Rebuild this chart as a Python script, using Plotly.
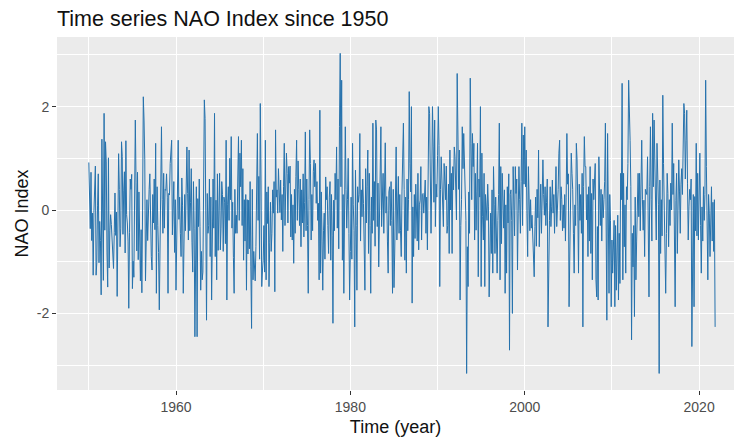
import plotly.graph_objects as go

# Monthly NAO index, Jan 1950 .. Nov 2021 (values read/estimated from the reference)
start_year = 1950
nao_index = [
    0.92, 0.40, -0.36, 0.73, -0.59, -0.06, -1.26, -0.05, 0.25, 0.85, -1.26, -1.02,   # 1950
    0.08, 0.70, -1.02, -0.22, -0.59, -1.64, 1.37, -0.22, -1.36, 1.87, -0.39, 1.32,   # 1951
    0.93, -0.83, -1.49, 1.01, -1.12, -0.40, -0.09, -0.28, -0.54, -0.73, -1.13, -0.43,  # 1952
    0.33, -0.49, -0.04, -1.67, -0.66, 1.09, 0.40, -0.71, -0.35, 1.32, 1.04, -0.47,   # 1953
    0.37, 0.74, -0.83, 1.34, -0.09, -0.25, -0.60, -1.90, -0.44, 0.60, 0.40, 0.69,    # 1954
    -1.52, -0.99, -1.30, 0.28, 1.74, 0.54, -0.79, 0.73, -0.96, 0.35, -0.35, -1.37,   # 1955
    -0.38, -1.60, 0.02, 2.19, 1.74, 0.97, -1.37, -0.83, 0.20, -0.59, 0.14, 0.40,     # 1956
    0.70, -0.70, -0.90, -1.16, 0.30, -0.25, 0.60, -0.38, 1.29, -1.61, 0.45, -0.30,   # 1957
    -0.82, -1.93, -0.60, 0.42, 1.61, 0.20, -0.45, 0.71, -0.35, 0.40, 0.38, 0.70,     # 1958
    0.25, -1.61, 0.32, 0.29, 0.90, 1.16, 1.35, -0.48, 0.10, 0.55, -0.82, 0.20,       # 1959
    -1.55, -0.42, 0.30, 1.35, -0.18, 0.25, -0.45, -0.90, 0.62, 0.08, -1.61, -0.70,   # 1960
    0.30, -0.40, 0.71, 1.22, 0.32, -0.58, 1.16, -0.40, 0.14, 0.80, -0.62, -1.20,     # 1961
    0.55, -0.35, -2.45, -0.60, 0.45, -2.45, 0.22, -0.32, 0.60, -0.32, -1.55, -0.80,  # 1962
    -1.35, -1.20, 0.40, 2.13, 1.77, -0.70, -2.13, 0.32, -0.45, -0.30, 0.60, -0.90,   # 1963
    0.25, -1.74, 0.10, 0.60, -0.35, 1.87, -0.90, 0.19, -1.35, 0.70, -0.78, 0.45,     # 1964
    0.71, -0.77, -0.35, 0.55, 0.30, -0.80, 0.25, 0.15, -0.65, 1.35, -1.74, 0.10,     # 1965
    0.45, -0.20, 1.00, 0.20, 1.42, -0.35, 0.15, -0.92, -1.61, 0.40, -0.45, -0.10,    # 1966
    -0.45, 0.60, 1.42, -0.20, 1.10, 0.45, 1.35, -0.30, 0.80, -0.97, 0.20, -0.60,     # 1967
    0.30, -1.55, 0.20, -0.85, 0.19, -0.75, 0.55, -1.10, -2.29, 0.40, -1.35, -0.80,   # 1968
    -1.30, -1.37, -0.70, 0.45, 1.48, -0.20, 0.65, -0.95, 2.06, 0.58, -1.48, -1.16,   # 1969
    -0.97, -0.30, -1.20, 1.35, -1.35, 0.35, -0.26, 0.45, -1.48, -0.62, 0.15, -0.80,  # 1970
    -0.45, 0.39, -0.06, 0.55, -1.58, 1.55, 0.25, 0.39, -0.06, 0.80, 0.42, -0.05,     # 1971
    0.58, -0.19, 0.30, -0.80, 0.45, 1.29, -0.30, 0.20, 1.10, 0.71, -0.25, 0.84,      # 1972
    0.52, 0.85, -0.52, 0.30, -0.58, 0.10, -1.03, 0.40, -0.45, 0.65, 1.35, -0.20,     # 1973
    0.95, 0.40, -0.30, 0.60, -0.71, 0.39, -0.25, 0.70, -0.52, 0.15, 1.51, -0.40,     # 1974
    0.60, -0.30, -1.61, 0.20, 1.55, 0.90, -0.58, 0.30, -0.40, 0.75, 0.97, 0.45,      # 1975
    0.90, 0.13, 0.55, -0.20, 0.13, -1.35, 1.93, -1.22, 0.35, -0.60, -1.55, -0.40,    # 1976
    -0.06, -0.95, 0.64, 0.20, 0.45, -0.30, -0.84, 0.25, 0.55, -0.97, 0.30, -0.50,    # 1977
    -2.19, 0.19, -0.40, 0.71, 0.20, 1.22, -0.35, 0.60, -0.75, 1.61, 3.03, 0.45,      # 1978
    2.51, -0.97, 0.30, -1.61, -0.20, 1.61, 0.40, -0.35, 0.20, 1.00, -0.45, -1.74,    # 1979
    -0.80, 0.25, -0.95, 1.29, 0.10, -0.40, -2.26, 0.77, -0.30, -1.55, 0.45, 0.15,    # 1980
    0.30, 1.48, -0.60, 0.39, -0.13, 0.60, 0.13, -0.55, -1.55, 0.80, -0.25, 0.45,     # 1981
    1.16, -0.84, 0.71, -0.30, -1.61, 0.25, -0.45, 1.68, -0.20, 0.55, -0.70, 1.74,    # 1982
    1.55, -0.32, 0.52, -1.10, 0.20, 0.75, 1.61, -0.32, 0.40, 0.71, -0.45, 0.30,      # 1983
    1.30, -0.06, 0.26, -0.60, -1.22, 0.35, 0.45, -0.30, 0.55, -0.20, -1.61, 0.40,    # 1984
    -1.50, -0.85, 0.25, 1.22, -0.58, 0.26, 0.65, -0.45, 0.30, -0.40, -0.90, 0.35,    # 1985
    0.95, 1.68, 0.40, -0.97, 0.25, -1.22, 0.60, -0.40, 0.20, 2.29, 0.90, 0.35,       # 1986
    2.00, -1.80, 0.06, -0.90, 0.30, -0.55, 0.50, 0.05, -0.60, 0.71, -0.77, 0.10,     # 1987
    0.19, 0.84, -0.58, 0.30, 0.32, -0.06, 0.19, 0.58, -0.45, 0.25, -0.77, 1.10,      # 1988
    2.00, 1.87, 0.19, -0.45, 0.60, 2.00, 1.22, 0.15, 1.74, -0.32, 0.50, 0.25,        # 1989
    1.05, 2.00, 1.25, -1.48, 0.40, 1.03, 0.58, 0.06, -0.32, 0.90, 0.32, 0.20,        # 1990
    0.85, -0.45, -0.30, 0.50, -0.84, 1.16, 0.00, 0.71, -0.84, 0.84, 0.39, 1.22,      # 1991
    1.03, 0.13, -0.19, 2.64, 1.35, 0.40, 1.16, -1.74, -0.30, 0.20, 1.61, 0.80,       # 1992
    1.48, 1.03, 0.40, -0.20, -3.16, -0.71, -1.48, 0.35, -0.45, 2.55, 1.29, 0.20,     # 1993
    1.48, 0.84, 1.29, -0.58, 0.71, -0.39, 0.35, 1.29, -1.29, 0.60, 0.25, 2.00,       # 1994
    -1.48, 1.10, -0.13, -0.58, 0.71, -1.48, 0.30, 0.06, -0.20, 0.50, 0.06, -1.68,    # 1995
    -0.32, -0.06, -0.84, 0.39, -1.22, 0.84, 0.10, -0.84, 0.25, -0.45, -1.22, -0.20,  # 1996
    0.30, 1.68, -1.35, 0.84, -0.65, 0.71, 0.25, -0.35, 0.39, -1.61, 0.10, -1.22,     # 1997
    0.45, -0.25, 0.70, -2.71, 0.30, 0.39, -0.20, -2.00, 0.84, 0.00, -0.50, 0.84,     # 1998
    0.32, 0.60, -1.16, -0.06, 0.84, 0.20, -0.45, 0.55, 1.68, -0.30, 1.45, 0.50,      # 1999
    1.61, 0.45, 1.16, -0.06, -0.90, 0.84, 0.30, -0.40, 0.20, -0.35, -0.10, -0.58,    # 2000
    -0.58, -1.29, -0.32, 0.25, -0.70, 0.40, -0.15, 1.16, -0.71, -0.19, 0.50, -0.45,  # 2001
    0.80, 0.97, 0.30, -0.10, 0.45, -0.30, 0.15, 0.60, -2.26, -0.40, -0.20, 0.45,     # 2002
    -0.32, 0.06, 0.58, -0.06, 0.30, -0.45, 0.10, 0.84, -0.32, -0.06, 0.40, 1.10,     # 2003
    1.35, -0.20, 0.45, 0.20, -0.40, 0.10, -0.35, 0.30, -0.60, 0.25, 1.48, 0.50,      # 2004
    0.70, -1.87, -0.45, 0.30, 1.10, 0.71, 0.40, -0.45, -1.22, 0.10, -0.30, 1.29,     # 2005
    0.97, 0.06, -1.22, 0.50, -0.20, 0.30, -0.45, 0.71, -2.26, 0.45, 1.42, 0.84,      # 2006
    0.84, -0.19, 0.30, -0.90, 0.45, -0.60, 0.84, -0.84, 0.32, -1.35, 0.60, 0.20,     # 2007
    0.45, 0.90, -1.35, -1.68, -0.32, -1.74, 1.03, 0.06, -0.30, 0.40, -0.60, 0.30,    # 2008
    -0.15, 0.20, 0.55, 1.68, -0.30, -2.13, 1.48, -0.40, -1.61, 0.30, -0.20, -1.87,   # 2009
    -0.58, -1.22, -0.84, -0.20, -1.87, -0.30, -1.55, -0.60, -0.10, -1.74, -0.45, -1.42,  # 2010
    0.71, 0.20, 2.45, -1.35, 0.71, -0.71, 0.10, -1.22, 0.45, 0.20, 0.90, 2.51,       # 2011
    2.00, 1.35, 0.45, -2.51, -0.45, -1.10, -0.30, -2.06, 0.25, -1.35, -0.60, 0.10,   # 2012
    0.71, -0.13, 0.71, -0.40, 0.30, 1.35, 0.20, -0.39, 0.19, -0.90, 0.40, 0.35,      # 2013
    0.30, 1.03, -0.20, -1.68, 0.45, 1.61, 0.20, -0.60, 1.87, 0.45, 1.74, 0.60,       # 2014
    0.26, -0.58, 1.29, 0.40, 0.10, -3.16, 0.58, -0.84, 0.20, -0.50, 2.22, 0.90,      # 2015
    0.10, -0.45, -1.61, -0.45, 0.71, 0.32, -0.71, 0.20, -0.30, 0.52, 0.00, 1.68,     # 2016
    0.30, 0.90, -0.20, -1.87, 0.19, 0.71, -0.84, 0.20, 0.97, 0.35, -0.45, 0.50,      # 2017
    0.80, 0.30, 1.20, 2.06, 1.87, 0.60, 1.35, 1.93, 0.52, -0.58, 0.06, 0.40,         # 2018
    0.20, 0.60, -2.64, -1.22, 0.30, -1.87, 0.26, -0.40, 1.29, -0.50, 0.71, -0.58,    # 2019
    0.40, 1.10, -0.30, -1.22, 0.06, -0.60, 0.45, -0.20, 0.30, 2.51, 0.84, -0.58,     # 2020
    -1.35, 0.30, -0.06, -0.90, -0.32, 0.45, -0.60, 0.15, -0.80, 0.20, -2.26,         # 2021
]
time_year = [start_year + i / 12 for i in range(len(nao_index))]

x_tick_vals = [1960, 1980, 2000, 2020]
x_tick_text = ["1960", "1980", "2000", "2020"]
y_tick_vals = [-2, 0, 2]
y_tick_text = ["-2", "0", "2"]

FONT = "Arial, Liberation Sans, sans-serif"

fig = go.Figure()
fig.add_trace(go.Scatter(
    x=time_year, y=nao_index, mode="lines",
    line=dict(color="#2672ad", width=1.0),
    showlegend=False, hoverinfo="skip",
))

fig.update_layout(
    width=734, height=441,
    margin=dict(l=57, r=0, t=37, b=51),
    paper_bgcolor="white",
    plot_bgcolor="#EBEBEB",
    title=dict(text="Time series NAO Index since 1950", x=57/734, xanchor="left",
               y=1 - 18/441, yanchor="middle",
               font=dict(family=FONT, size=21.5, color="#111111")),
    font=dict(family=FONT),
)
fig.update_xaxes(
    range=[1946.35, 2024.0],
    tickvals=x_tick_vals, ticktext=x_tick_text,
    tickfont=dict(size=14, color="#4D4D4D", family=FONT),
    ticks="outside", ticklen=4, tickcolor="#333333", tickwidth=1,
    showgrid=True, gridcolor="white", gridwidth=1.1,
    minor=dict(tick0=1950, dtick=10, showgrid=True, gridcolor="white", gridwidth=0.5),
    zeroline=False, showline=False,
    title=dict(text="Time (year)", font=dict(size=18, color="#111111", family=FONT), standoff=6),
)
fig.update_yaxes(
    range=[-3.48, 3.346],
    tickvals=y_tick_vals, ticktext=y_tick_text,
    tickfont=dict(size=14, color="#4D4D4D", family=FONT),
    ticks="outside", ticklen=4, tickcolor="#333333", tickwidth=1,
    showgrid=True, gridcolor="white", gridwidth=1.1,
    minor=dict(tick0=-3, dtick=1, showgrid=True, gridcolor="white", gridwidth=0.5),
    zeroline=False, showline=False,
    title=dict(text="NAO Index", font=dict(size=18, color="#111111", family=FONT), standoff=3),
)

fig.write_html("out.html")
